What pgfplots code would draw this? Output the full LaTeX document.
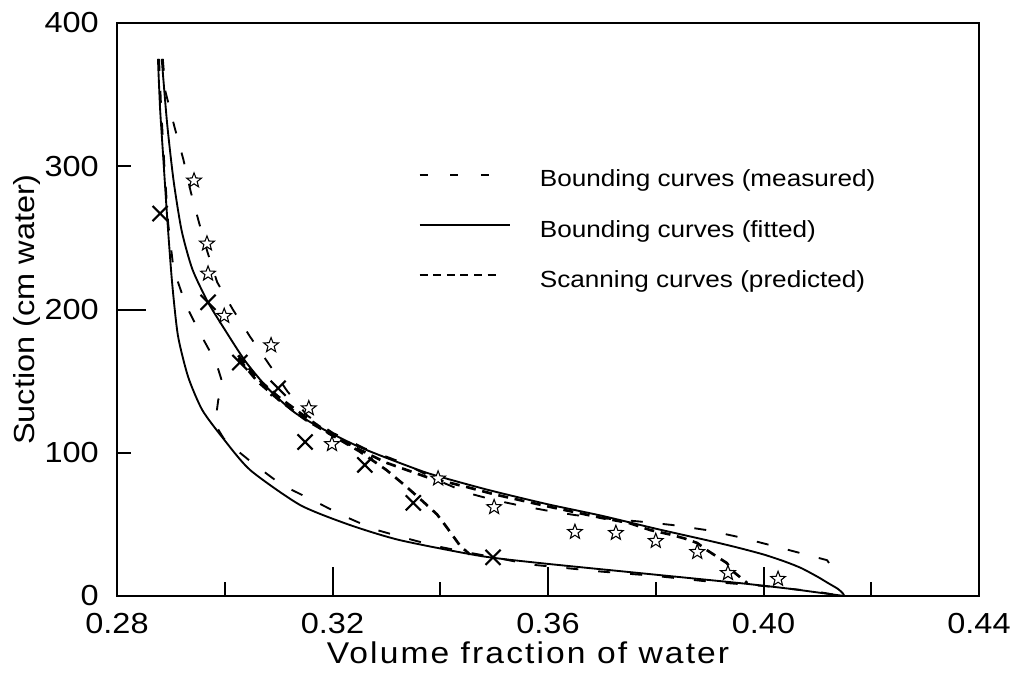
\documentclass[border=0pt]{standalone}
\usepackage{fontspec}
\setmainfont[FakeStretch=1.12]{Liberation Sans}
\newfontfamily\xlabfont[FakeStretch=1.12, LetterSpace=7]{Liberation Sans}
\usepackage{pgfplots}
\pgfplotsset{compat=1.18}
\pgfdeclareplotmark{ostar}{%
\pgfpathmoveto{\pgfpoint{0pt}{\pgfplotmarksize}}%
\pgfpathlineto{\pgfpoint{-0.2469\pgfplotmarksize}{0.3398\pgfplotmarksize}}%
\pgfpathlineto{\pgfpoint{-0.9511\pgfplotmarksize}{0.3090\pgfplotmarksize}}%
\pgfpathlineto{\pgfpoint{-0.3995\pgfplotmarksize}{-0.1298\pgfplotmarksize}}%
\pgfpathlineto{\pgfpoint{-0.5878\pgfplotmarksize}{-0.8090\pgfplotmarksize}}%
\pgfpathlineto{\pgfpoint{0pt}{-0.42\pgfplotmarksize}}%
\pgfpathlineto{\pgfpoint{0.5878\pgfplotmarksize}{-0.8090\pgfplotmarksize}}%
\pgfpathlineto{\pgfpoint{0.3995\pgfplotmarksize}{-0.1298\pgfplotmarksize}}%
\pgfpathlineto{\pgfpoint{0.9511\pgfplotmarksize}{0.3090\pgfplotmarksize}}%
\pgfpathlineto{\pgfpoint{0.2469\pgfplotmarksize}{0.3398\pgfplotmarksize}}%
\pgfpathclose
\pgfusepathqfillstroke}
\begin{document}
\begin{tikzpicture}
\path[use as bounding box] (0,0) rectangle (762.75pt,512.25pt);
\begin{axis}[
  at={(87.75pt,65.25pt)}, anchor=south west,
  width=646.5pt, height=429.75pt, scale only axis,
  xmin=0.28, xmax=0.44, ymin=0, ymax=400,
  xtick={0.28,0.32,0.36,0.40,0.44},
  minor xtick={0.30,0.34,0.38,0.42},
  ytick={0,200,400},
  minor ytick={100,300},
  extra y ticks={100,300},
  extra y tick style={major tick length=10.5pt},
  tick align=inside, tick pos=left,
  major tick length=21.75pt, minor tick length=10.5pt,
  tick style={line width=1.5pt, black},
  axis line style={line width=1.8pt},
  scaled x ticks=false,
  /pgf/number format/assume math mode=true,
  xticklabel style={/pgf/number format/fixed, /pgf/number format/precision=2, /pgf/number format/fixed zerofill, inner sep=0pt, yshift=-12.75pt},
  yticklabel style={inner sep=0pt, xshift=-13.5pt},
  ticklabel style={font=\fontsize{21.75}{26}\selectfont},
  xlabel={Volume fraction of water},
  ylabel={Suction (cm water)},
  xlabel style={font=\xlabfont\fontsize{22.5}{27}\selectfont, at={(axis description cs:0.5,0)}, anchor=base, inner sep=0pt, yshift=-50.25pt, xshift=-15pt},
  ylabel style={font=\fontsize{21.75}{26}\selectfont, at={(axis description cs:-0.1044,0.5)}, anchor=center, inner sep=0pt},
  legend style={at={(rel axis cs:0.3492,0.744)}, anchor=north west, draw=none, fill=none, inner sep=0pt,
    font=\fontsize{17.5}{21}\selectfont, row sep=23.5pt,
    nodes={inner sep=0pt},
    /tikz/every odd column/.append style={column sep=21.5pt}},
  legend cell align=left,
]
% Bounding curves (measured) - drying
\addplot[black, line width=1.4pt, dash pattern=on 9pt off 15pt,
  legend image code/.code={\draw[black, line width=1.4pt, dash pattern=on 6pt off 17pt] (0pt,0.36em) -- (57pt,0.36em);}]
coordinates {(0.2885,375) (0.2890,352) (0.2907,327) (0.2923,305) (0.2937,282) (0.2952,261) (0.2968,240) (0.2986,219) (0.3015,200) (0.3047,181) (0.3080,163) (0.3116,143) (0.3153,126) (0.3200,114) (0.3260,103) (0.3330,93) (0.3400,80) (0.3450,72) (0.3500,67) (0.3550,63) (0.3600,59.5) (0.3650,56.5) (0.3710,54) (0.3770,52) (0.3830,49.6) (0.3895,46) (0.3956,41) (0.4018,35) (0.4068,30) (0.4118,25) (0.4127,20)};
\addlegendentry{Bounding curves (measured)}
% Bounding curves (fitted) - drying
\addplot[black, line width=1.4pt, smooth, tension=0.4,
  legend image code/.code={\draw[black, line width=1.4pt] (0pt,0.36em) -- (68pt,0.36em);}]
coordinates {(0.2883,375) (0.2893,330) (0.2905,290) (0.2920,255) (0.2940,228) (0.2969,205) (0.3000,186) (0.3038,164) (0.3080,145) (0.3130,128) (0.3190,115) (0.3250,104) (0.3310,95) (0.3375,86) (0.3440,79) (0.3500,73) (0.3600,64) (0.3700,56) (0.3800,47) (0.3900,38.5) (0.3950,34) (0.4000,29) (0.4040,24) (0.4070,19.5) (0.4100,13.5) (0.4120,9) (0.4138,5) (0.4147,2) (0.4150,0)};
\addlegendentry{Bounding curves (fitted)}
% Scanning curve B
\addplot[black, line width=2pt, dash pattern=on 7.5pt off 5pt,
  legend image code/.code={\draw[black, line width=2pt, dash pattern=on 6pt off 4.2pt] (0pt,0.36em) -- (57pt,0.36em);}]
coordinates {(0.3025,166) (0.3060,150) (0.3100,137) (0.3150,123) (0.3200,112) (0.3251,102) (0.3300,93) (0.3375,83) (0.3450,76) (0.3500,71) (0.3600,62.5) (0.3700,54.5) (0.3750,51) (0.3790,46) (0.3826,43) (0.3855,40) (0.3877,37) (0.3895,32) (0.3932,23) (0.3944,17) (0.3970,9)};
\addlegendentry{Scanning curves (predicted)}
% Scanning curve A
\addplot[black, line width=2pt, dash pattern=on 7.5pt off 5pt, forget plot]
coordinates {(0.3025,168) (0.3060,152) (0.3100,139) (0.3150,125) (0.3200,112) (0.3250,101) (0.3300,88) (0.3335,77) (0.3362,68) (0.3394,57) (0.3412,48) (0.3437,35) (0.3455,29)};
% Bounding curves (fitted) - wetting
\addplot[black, line width=1.4pt, smooth, tension=0.4, forget plot]
coordinates {(0.2876,375) (0.2880,340) (0.2885,311) (0.2893,265) (0.2902,220) (0.2913,182) (0.2932,153) (0.2958,130) (0.2995,111) (0.3047,88) (0.3140,63.5) (0.3232,49.6) (0.3325,39) (0.3474,28) (0.3585,23) (0.3770,16) (0.3956,9) (0.4050,5) (0.4100,2.5) (0.4150,0)};
% Bounding curves (measured) - wetting
\addplot[black, line width=1.4pt, dash pattern=on 9pt off 15pt, forget plot]
coordinates {(0.2878,375) (0.2882,340) (0.2888,300) (0.2895,260) (0.2905,228) (0.2928,203) (0.2956,182) (0.2984,163) (0.2998,146) (0.2988,137) (0.2982,120) (0.2998,110) (0.3015,104) (0.3056,91.5) (0.3106,77.5) (0.3168,66) (0.3220,56) (0.3278,46.5) (0.3335,40.5) (0.3390,35) (0.3450,30.5) (0.3500,27) (0.3567,22) (0.3700,17) (0.3800,14) (0.3900,10) (0.4000,7) (0.4100,3) (0.4145,0)};
% crosses
\addplot[only marks, mark=x, mark size=8pt, mark options={line width=1.6pt, black}, forget plot]
coordinates {(0.2880,267) (0.2969,205) (0.3028,163) (0.3099,145) (0.3149,107.5) (0.3260,91.5) (0.3350,65) (0.3498,27)};
% stars
\addplot[only marks, mark=ostar, mark size=5.8pt, mark options={line width=0.8pt, draw=black, fill=white}, forget plot]
coordinates {(0.2943,290) (0.2967,246) (0.2969,225) (0.2999,195.5) (0.3086,175) (0.3156,131) (0.3199,106) (0.3396,82) (0.3500,62) (0.3650,44.7) (0.3726,44) (0.3800,38.4) (0.3877,30.7) (0.3934,16) (0.4027,11.9)};
\end{axis}
\end{tikzpicture}
\end{document}
